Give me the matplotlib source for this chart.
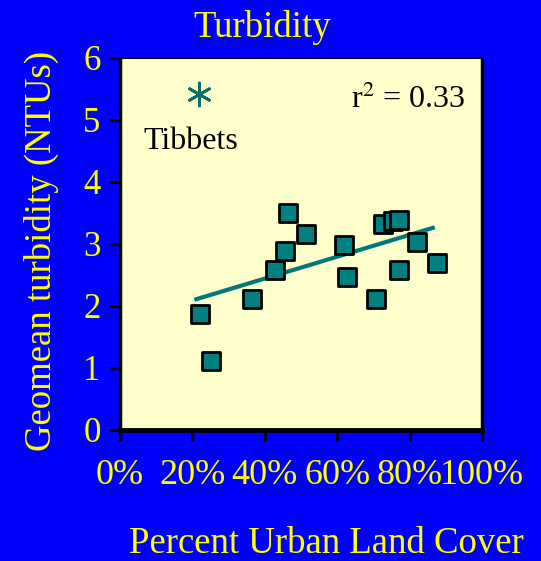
import numpy as np
import matplotlib
matplotlib.use('Agg')
import matplotlib.pyplot as plt

# percent urban land cover vs geomean turbidity (NTUs)
urban = [22.1, 25.0, 36.4, 42.7, 45.6, 46.4, 51.3, 62.0, 62.8, 70.6, 72.7, 75.5, 77.0, 77.0, 82.0, 87.6]
turb = [1.87, 1.12, 2.12, 2.58, 2.88, 3.50, 3.16, 2.99, 2.46, 2.12, 3.33, 3.37, 3.38, 2.58, 3.04, 2.70]

# outlier
tibbets_x = [21.7]
tibbets_y = [5.42]

# trend line end points
trend_x = [21.1, 86.4]
trend_y = [2.11, 3.26]

xticks = [0, 20, 40, 60, 80, 100]
xtick_labels = ['0%', '20%', '40%', '60%', '80%', '100%']
yticks = [0, 1, 2, 3, 4, 5, 6]

plt.rcParams['font.family'] = ['Liberation Serif', 'DejaVu Serif']

yellow = '#FFFF00'
teal = '#008080'

fig = plt.figure(figsize=(5.41, 5.61), dpi=100, facecolor='#0000FF')
ax = fig.add_axes([120 / 541, (561 - 430) / 561, 362 / 541, 372 / 561])
ax.set_facecolor('#FFFFCC')

ax.plot(trend_x, trend_y, color='#007878', lw=3, zorder=2)
ax.scatter(urban, turb, marker='s', s=175, facecolor=teal, edgecolor='black', linewidth=2, zorder=3)
ax.scatter(tibbets_x, tibbets_y, marker=(6, 2, 0), s=270, color='#007070', linewidth=2, zorder=3)

ax.text(19.5, 4.66, 'Tibbets', fontsize=23, color='black', ha='center', va='center')
ax.text(95.3, 5.33, r'r$^2$ = 0.33', fontsize=23, color='black', ha='right', va='center',
        math_fontfamily='stix')

ax.set_xlim(0, 100)
ax.set_ylim(0, 6)
ax.set_xticks(xticks)
ax.set_xticklabels(xtick_labels)
ax.set_yticks(yticks)

ax.tick_params(axis='both', direction='out', length=8, width=2, color='black',
               labelcolor=yellow, labelsize=26)
ax.tick_params(axis='y', labelsize=25, pad=6)
ax.tick_params(axis='x', pad=13)

for side in ['left', 'bottom', 'right', 'top']:
    ax.spines[side].set_color('black')
ax.spines['left'].set_linewidth(2.5)
ax.spines['bottom'].set_linewidth(3.5)
ax.spines['right'].set_linewidth(2.5)
ax.spines['top'].set_linewidth(1.5)

fig.text(326 / 541, 1 - 553 / 561, 'Percent Urban Land Cover', color=yellow, fontsize=26.5,
         ha='center', va='baseline')
fig.text(41 / 541, 1 - 251 / 561, 'Geomean turbidity (NTUs)', color=yellow, fontsize=26.5,
         ha='center', va='center', rotation=90)
fig.text(262 / 541, 1 - 37 / 561, 'Turbidity', color=yellow, fontsize=26.5, ha='center', va='baseline')

fig.savefig('out.png', dpi=100, facecolor=fig.get_facecolor())
